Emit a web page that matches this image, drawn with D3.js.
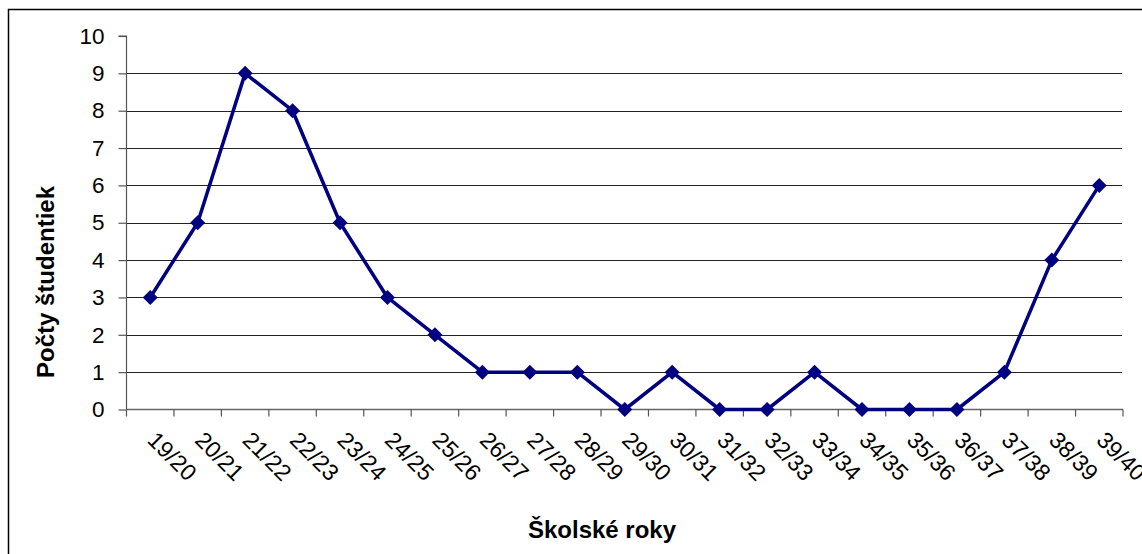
<!DOCTYPE html>
<html><head><meta charset="utf-8">
<script src="https://cdn.jsdelivr.net/npm/d3@7"></script>
<style>body{margin:0;background:#fff}svg{display:block}text{font-family:"Liberation Sans",Arial,sans-serif}</style>
</head><body>
<svg id="c" width="1142" height="554"></svg>
<script>
const categories = ["19/20","20/21","21/22","22/23","23/24","24/25","25/26","26/27","27/28","28/29","29/30","30/31","31/32","32/33","33/34","34/35","35/36","36/37","37/38","38/39","39/40"];
const values = [3,5,9,8,5,3,2,1,1,1,0,1,0,0,1,0,0,0,1,4,6];
const yTicks = [0,1,2,3,4,5,6,7,8,9,10];
const xTitle = "Školské roky";
const yTitle = "Počty študentiek";

(function(){
const svg = d3.select("#c");
// outer frame
svg.append("rect").attr("x",8.5).attr("y",9.5).attr("width",1150).attr("height",560)
  .attr("fill","none").attr("stroke","#000").attr("stroke-width",1.5);

const pl = 126.5, pr = 1123, pt = 36, pb = 409.5;
const x = d3.scaleBand().domain(categories).range([pl, pr]);
const y = d3.scaleLinear().domain([0,10]).range([pb, pt]);

// gridlines
svg.append("g").selectAll("line").data(yTicks.filter(d=>d>0 && d<10)).join("line")
  .attr("x1",pl).attr("x2",pr-1).attr("y1",d=>Math.round(y(d))+0.5).attr("y2",d=>Math.round(y(d))+0.5)
  .attr("stroke","#222").attr("stroke-width",1.2);

// y axis
const ya = svg.append("g").attr("transform",`translate(${pl},0)`)
  .call(d3.axisLeft(y).tickValues(yTicks).tickSize(8).tickPadding(14).tickFormat(d3.format("d")));
ya.select(".domain").attr("stroke","#555").attr("stroke-width",1.2).attr("d",`M-8,${pt}H0V${pb}`);
ya.selectAll(".tick line").attr("stroke","#555").attr("stroke-width",1.2);
ya.selectAll(".tick text").attr("font-size",22.5).attr("fill","#000").attr("font-family","Liberation Sans, Arial, sans-serif");

// x axis
const xa = svg.append("g").attr("transform",`translate(0,${pb})`);
xa.append("line").attr("x1",pl).attr("x2",pr).attr("y1",0).attr("y2",0).attr("stroke","#666").attr("stroke-width",1.5);
const edges = categories.map(c=>x(c)).concat([pr]);
xa.selectAll("line.t").data(edges).join("line").attr("class","t")
  .attr("x1",d=>d).attr("x2",d=>d).attr("y1",0).attr("y2",7).attr("stroke","#555").attr("stroke-width",1.2);
xa.selectAll("text").data(categories).join("text")
  .attr("transform",d=>`translate(${x(d)+x.bandwidth()/2-4},32) rotate(45)`)
  .attr("font-size",23).attr("fill","#000").text(d=>d);

// line
const cx = d => x(d)+x.bandwidth()/2;
svg.append("path").datum(values.map((v,i)=>[cx(categories[i]),y(v)]))
  .attr("d",d3.line()).attr("fill","none").attr("stroke","#000080").attr("stroke-width",3.5).attr("stroke-linejoin","round");
svg.append("g").selectAll("path").data(values).join("path")
  .attr("transform",(v,i)=>`translate(${cx(categories[i])},${y(v)})`)
  .attr("d","M0,-7.5L7.5,0L0,7.5L-7.5,0Z").attr("fill","#000080");

// titles
svg.append("text").attr("x",602).attr("y",538).attr("text-anchor","middle")
  .attr("font-size",24).attr("font-weight","bold").text(xTitle);
svg.append("text").attr("transform","translate(54,282) rotate(-90)").attr("text-anchor","middle")
  .attr("font-size",24).attr("font-weight","bold").text(yTitle);
})();
</script>
</body></html>
